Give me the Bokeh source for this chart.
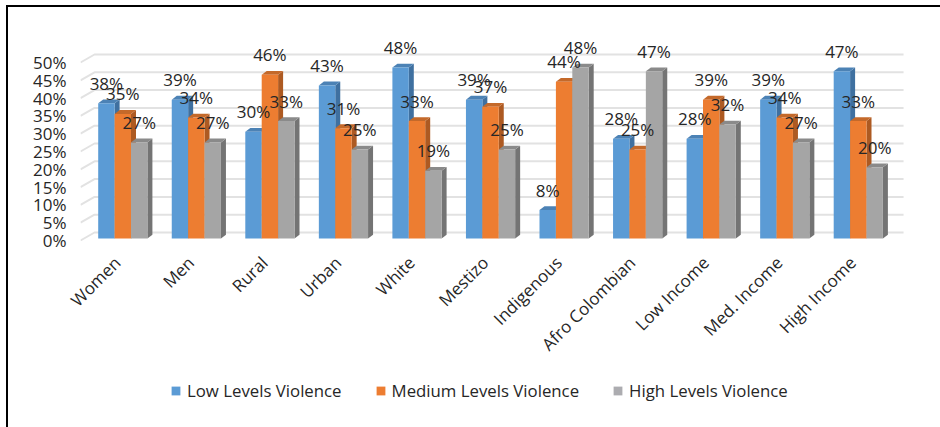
from math import pi
from bokeh.embed import file_html
from bokeh.resources import INLINE
from bokeh.plotting import figure
from bokeh.models import Range1d, FixedTicker, Legend, LegendItem

categories = ["Women", "Men", "Rural", "Urban", "White", "Mestizo", "Indigenous",
              "Afro Colombian", "Low Income", "Med. Income", "High Income"]
low = [38, 39, 30, 43, 48, 39, 8, 28, 28, 39, 47]
medium = [35, 34, 46, 31, 33, 37, 44, 25, 39, 34, 33]
high = [27, 27, 33, 25, 19, 25, 48, 47, 32, 27, 20]
series_names = ["Low Levels Violence", "Medium Levels Violence", "High Levels Violence"]
y_ticks = [0, 5, 10, 15, 20, 25, 30, 35, 40, 45, 50]

FRONT = ["#5B9BD5", "#ED7D31", "#A5A5A5"]
LEGEND_COLORS = ["#5B9BD5", "#ED7D31", "#ACACB0"]
SIDE = ["#3F70A0", "#AD5A22", "#747474"]
TOP = ["#4C82B5", "#C4692A", "#8A8A8A"]
TEXT = "#262626"
FONT = "Open Sans"

PX_X = 73.55
PX_Y = 3.56
OX, OY = 8, 7   # figure canvas origin inside the picture
FL, FR, FT, FB = 80, 910, 30, 241

p = figure(frame_width=FR - FL, frame_height=FB - FT, output_backend="svg", toolbar_location=None,
           x_range=Range1d(0, (FR - FL) / PX_X), y_range=Range1d(-(FB - 240) / PX_Y, (240 - FT) / PX_Y),
           min_border_left=FL - OX, min_border_right=940 - FR, min_border_top=FT - OY, min_border_bottom=427 - FB,
           outline_line_color=None, background_fill_color="white", border_fill_color="white")
p.styles = {"position": "absolute", "left": "6px", "top": "5px",
            "border-left": "2px solid black", "border-top": "2px solid black", "box-sizing": "content-box"}
p.xgrid.visible = False
p.ygrid.visible = False

# y axis
p.yaxis.ticker = FixedTicker(ticks=y_ticks)
p.yaxis.major_label_overrides = {t: f"{t}%" for t in y_ticks}
p.yaxis.axis_line_color = None
p.yaxis.major_tick_line_color = None
p.yaxis.minor_tick_line_color = None
p.yaxis.major_label_standoff = 8
p.yaxis.major_label_text_font = FONT
p.yaxis.major_label_text_font_size = "17px"
p.yaxis.major_label_text_color = TEXT

# x axis
p.xaxis.ticker = FixedTicker(ticks=[i + 0.5 for i in range(len(categories))])
p.xaxis.major_label_overrides = {i + 0.5: c for i, c in enumerate(categories)}
p.xaxis.axis_line_color = None
p.xaxis.major_tick_line_color = None
p.xaxis.minor_tick_line_color = None
p.xaxis.major_label_orientation = pi / 4
p.xaxis.major_label_standoff = 12
p.xaxis.major_label_text_font = FONT
p.xaxis.major_label_text_font_size = "17px"
p.xaxis.major_label_text_color = TEXT

# back wall
wall_dx, wall_dy = 14 / PX_X, 8 / PX_Y
n = len(categories)
p.multi_line([[0, wall_dx, n + wall_dx] for _ in y_ticks],
             [[t, t + wall_dy, t + wall_dy] for t in y_ticks],
             line_color="#E2E2E2", line_width=2)

# 3D bars
base = 2 / PX_Y
bar_w = 16.4 / PX_X
x0 = 17.7 / PX_X
dx, dy = 5 / PX_X, 3.8 / PX_Y
for s, vals in enumerate([low, medium, high]):
    lefts = [i + x0 + s * bar_w for i in range(n)]
    rights = [l + bar_w for l in lefts]
    tops = [base + v for v in vals]
    p.patches([[r, r + dx, r + dx, r] for r in rights],
              [[base, base + dy, t + dy, t] for t in tops],
              fill_color=SIDE[s], line_color=None)
    p.patches([[l, l + dx, r + dx, r] for l, r in zip(lefts, rights)],
              [[t, t + dy, t + dy, t] for t in tops],
              fill_color=TOP[s], line_color=None)
    p.quad(left=lefts, right=rights, bottom=base, top=tops, fill_color=FRONT[s], line_color=None)

# data labels
for s, vals in enumerate([low, medium, high]):
    xs = [i + x0 + (s + 0.5) * bar_w for i in range(n)]
    p.text(xs, [base + v for v in vals], text=[f"{v}%" for v in vals],
           text_align="center", text_baseline="middle", y_offset=-20,
           text_font={"value": FONT}, text_font_size="17px", text_color=TEXT)

# legend, on a transparent strip of its own laid over the chart's lower part
lg = figure(width=660, height=30, output_backend="svg", toolbar_location=None,
            x_range=Range1d(0, 1), y_range=Range1d(0, 1), x_axis_type=None, y_axis_type=None,
            min_border=0, outline_line_color=None, background_fill_alpha=0, border_fill_alpha=0)
lg.styles = {"position": "absolute", "left": "150px", "top": "376px"}
lg.xgrid.visible = False
lg.ygrid.visible = False
items = []
for name, color in zip(series_names, LEGEND_COLORS):
    key = lg.quad(left=[2], right=[3], bottom=[2], top=[3], fill_color=color, line_color=None)
    items.append(LegendItem(label=name, renderers=[key]))
legend = Legend(items=items, orientation="horizontal", location=(20, 4),
                background_fill_alpha=0, border_line_color=None,
                label_text_font=FONT, label_text_font_size="16.8px", label_text_color=TEXT,
                glyph_width=11, glyph_height=11, spacing=33, padding=0, margin=0, label_standoff=6)
lg.add_layout(legend, "center")

open("out.html", "w").write(file_html((p, lg), INLINE))
